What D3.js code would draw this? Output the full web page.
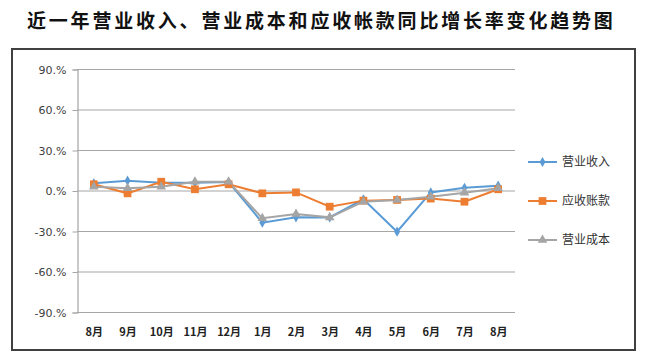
<!DOCTYPE html>
<html>
<head>
<meta charset="utf-8">
<script src="https://cdn.jsdelivr.net/npm/d3@7"></script>
<style>
  body { margin: 0; background: #fff; }
  text { font-family: "Noto Sans CJK SC", "DejaVu Sans", sans-serif; }
</style>
</head>
<body>
<div id="chart"></div>
<script>
// months along the x axis
var months = ["8月", "9月", "10月", "11月", "12月", "1月", "2月", "3月", "4月", "5月", "6月", "7月", "8月"];

// year-on-year growth, percent
var revenue = [5.3, 7.3, 5.8, 5.8, 6.3, -23.8, -19.9, -20, -6.5, -30.5, -1.4, 2, 3.6];
var receivable = [4.6, -2.1, 6.5, 0.9, 4.6, -2.1, -1.4, -12, -7.5, -7, -6, -8.3, 0.9];
var cost = [2.8, 1.6, 2.8, 6.5, 6.5, -20.6, -17.4, -19.9, -8.3, -7, -4.6, -1.6, 1.6];

var yTicks = [-90, -60, -30, 0, 30, 60, 90];

var series = [
     { name: "营业收入", values: revenue, color: "#5b9bd5", shape: d3.symbolDiamond, size: 30 },
     { name: "应收账款", values: receivable, color: "#ed7d31", shape: d3.symbolSquare, size: 60 },
     { name: "营业成本", values: cost, color: "#a5a5a5", shape: d3.symbolTriangle, size: 40 }
];

var width = 650, height = 364;
var margin = { top: 69, right: 135, bottom: 52, left: 77 };

var svg = d3.select("#chart").append("svg")
     .attr("width", width)
     .attr("height", height);

// title
svg.append("text")
     .attr("x", 27)
     .attr("y", 28)
     .attr("font-size", 19)
     .attr("font-weight", "bold")
     .attr("letter-spacing", 2.8)
     .attr("fill", "#111")
     .text("近一年营业收入、营业成本和应收帐款同比增长率变化趋势图");

// outer frame
svg.append("rect")
     .attr("x", 12)
     .attr("y", 49)
     .attr("width", 623)
     .attr("height", 301)
     .attr("fill", "none")
     .attr("stroke", "#404040")
     .attr("stroke-width", 2);

var x = d3.scalePoint()
     .domain(d3.range(months.length))
     .range([margin.left, width - margin.right])
     .padding(0.5);

var y = d3.scaleLinear()
     .domain([-90, 90])
     .range([height - margin.bottom, margin.top]);

// gridlines
svg.append("g")
     .selectAll("line")
     .data(yTicks)
     .enter()
     .append("line")
     .attr("x1", margin.left)
     .attr("x2", width - margin.right)
     .attr("y1", function (d) { return y(d) + 0.5; })
     .attr("y2", function (d) { return y(d) + 0.5; })
     .attr("stroke", "#a6a6a6")
     .attr("stroke-width", 1.2);

// y axis
var yAxis = svg.append("g")
     .attr("transform", "translate(" + (margin.left + 0.5) + ",0.5)")
     .call(d3.axisLeft(y).tickValues(yTicks).tickSize(5).tickPadding(6)
          .tickFormat(function (d) { return d.toFixed(1).replace(".0", ".") + "%"; }));
yAxis.select(".domain").attr("stroke", "#a6a6a6").attr("stroke-width", 1.2);
yAxis.selectAll(".tick line").attr("stroke", "#a6a6a6");
yAxis.selectAll("text")
     .attr("font-size", 11)
     .attr("fill", "#404040")
     .style("font-family", "'DejaVu Sans', sans-serif");

// x labels
var xAxis = svg.append("g")
     .attr("transform", "translate(0," + (height - margin.bottom) + ")")
     .call(d3.axisBottom(x).tickSize(0).tickPadding(16)
          .tickFormat(function (i) { return months[i]; }));
xAxis.select(".domain").remove();
xAxis.selectAll("text")
     .attr("font-size", 11)
     .attr("font-weight", "bold")
     .attr("fill", "#222");

var line = d3.line()
     .x(function (d, i) { return x(i); })
     .y(function (d) { return y(d); });

series.forEach(function (s) {
     svg.append("path")
          .datum(s.values)
          .attr("d", line)
          .attr("fill", "none")
          .attr("stroke", s.color)
          .attr("stroke-width", 2);
});

series.forEach(function (s) {
     svg.append("g")
          .selectAll("path")
          .data(s.values)
          .enter()
          .append("path")
          .attr("d", d3.symbol().type(s.shape).size(s.size))
          .attr("transform", function (d, i) { return "translate(" + x(i) + "," + y(d) + ")"; })
          .attr("fill", s.color);
});

// legend
var legend = svg.append("g")
     .selectAll("g")
     .data(series)
     .enter()
     .append("g")
     .attr("transform", function (d, i) { return "translate(528," + (162 + i * 39) + ")"; });

legend.append("line")
     .attr("x1", 0)
     .attr("x2", 29)
     .attr("stroke", function (d) { return d.color; })
     .attr("stroke-width", 2);

legend.append("path")
     .attr("transform", "translate(14.5,0)")
     .attr("d", function (d) { return d3.symbol().type(d.shape).size(d.size)(); })
     .attr("fill", function (d) { return d.color; });

legend.append("text")
     .attr("x", 34)
     .attr("dy", "0.35em")
     .attr("font-size", 12)
     .attr("fill", "#333")
     .text(function (d) { return d.name; });
</script>
</body>
</html>
